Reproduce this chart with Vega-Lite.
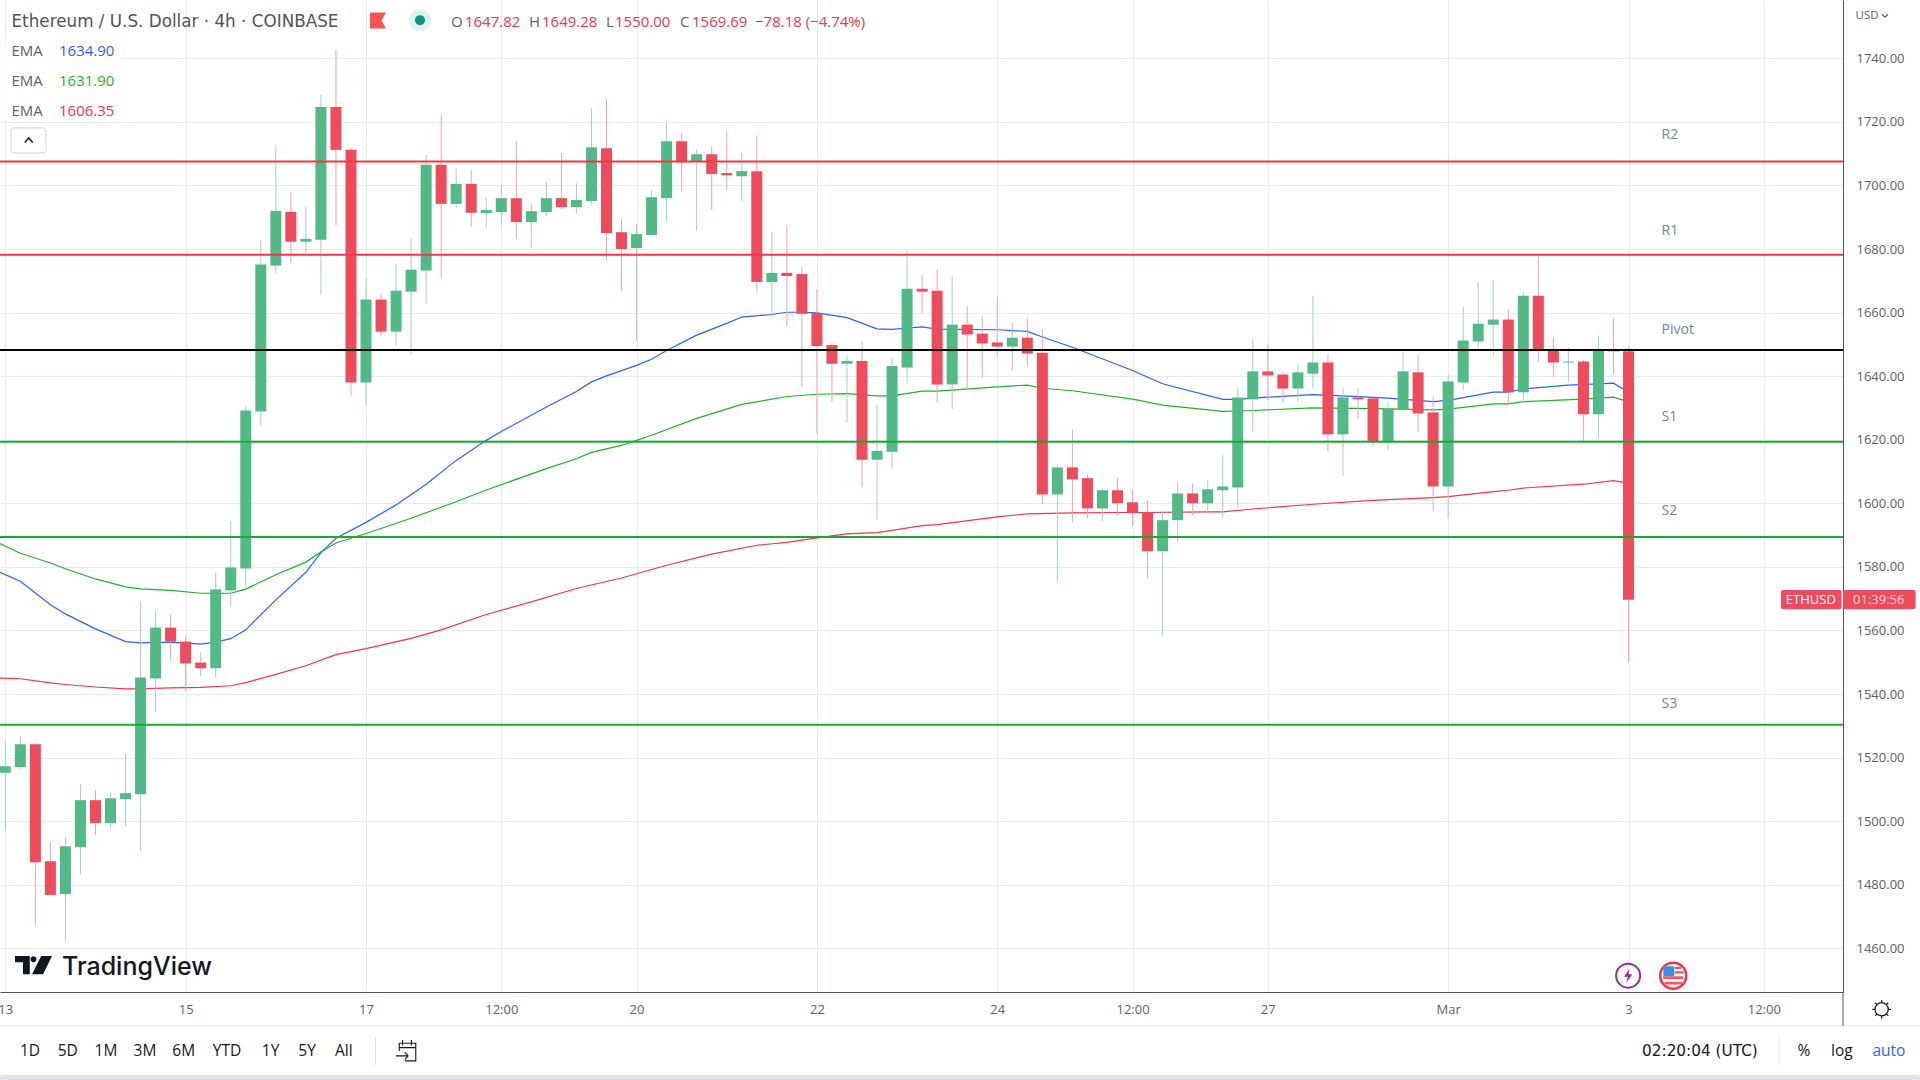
{
"$schema":"https://vega.github.io/schema/vega-lite/v6.json",
"width":1843,"height":992,"autosize":{"type":"none"},
"padding":{"left":0,"top":0,"right":77,"bottom":88},
"background":"#ffffff",
"config":{"view":{"stroke":null},"font":"Open Sans","text":{"font":"Open Sans"}},
"datasets":{
"candles":[
{"t":"2023-02-13T00:00Z","open":1515.2,"high":1525.1,"low":1497.3,"close":1517.3},
{"t":"2023-02-13T04:00Z","open":1517.0,"high":1526.7,"low":1516.3,"close":1524.2},
{"t":"2023-02-13T08:00Z","open":1524.2,"high":1524.5,"low":1467.3,"close":1487.1},
{"t":"2023-02-13T12:00Z","open":1487.4,"high":1493.4,"low":1476.8,"close":1476.8},
{"t":"2023-02-13T16:00Z","open":1477.1,"high":1495.0,"low":1462.3,"close":1492.1},
{"t":"2023-02-13T20:00Z","open":1491.8,"high":1511.6,"low":1483.4,"close":1506.6},
{"t":"2023-02-14T00:00Z","open":1506.6,"high":1509.7,"low":1495.6,"close":1499.4},
{"t":"2023-02-14T04:00Z","open":1499.4,"high":1509.1,"low":1498.1,"close":1507.2},
{"t":"2023-02-14T08:00Z","open":1506.9,"high":1521.0,"low":1498.4,"close":1508.8},
{"t":"2023-02-14T12:00Z","open":1508.5,"high":1569.1,"low":1490.6,"close":1545.2},
{"t":"2023-02-14T16:00Z","open":1544.9,"high":1566.0,"low":1534.2,"close":1560.9},
{"t":"2023-02-14T20:00Z","open":1560.9,"high":1565.0,"low":1550.3,"close":1556.5},
{"t":"2023-02-15T00:00Z","open":1556.5,"high":1558.1,"low":1540.8,"close":1549.6},
{"t":"2023-02-15T04:00Z","open":1549.9,"high":1553.1,"low":1545.6,"close":1548.1},
{"t":"2023-02-15T08:00Z","open":1548.1,"high":1578.2,"low":1545.2,"close":1572.9},
{"t":"2023-02-15T12:00Z","open":1572.6,"high":1594.5,"low":1567.5,"close":1579.8},
{"t":"2023-02-15T16:00Z","open":1579.5,"high":1630.5,"low":1573.8,"close":1629.2},
{"t":"2023-02-15T20:00Z","open":1628.9,"high":1682.9,"low":1624.5,"close":1675.1},
{"t":"2023-02-16T00:00Z","open":1674.8,"high":1712.8,"low":1672.3,"close":1692.0},
{"t":"2023-02-16T04:00Z","open":1691.7,"high":1697.7,"low":1675.7,"close":1682.3},
{"t":"2023-02-16T08:00Z","open":1682.3,"high":1693.3,"low":1678.8,"close":1683.2},
{"t":"2023-02-16T12:00Z","open":1682.9,"high":1728.5,"low":1665.7,"close":1724.7},
{"t":"2023-02-16T16:00Z","open":1724.7,"high":1742.6,"low":1687.3,"close":1711.2},
{"t":"2023-02-16T20:00Z","open":1711.2,"high":1711.8,"low":1633.9,"close":1638.0},
{"t":"2023-02-17T00:00Z","open":1638.0,"high":1670.7,"low":1630.5,"close":1664.1},
{"t":"2023-02-17T04:00Z","open":1664.1,"high":1665.7,"low":1652.5,"close":1654.0},
{"t":"2023-02-17T08:00Z","open":1654.0,"high":1675.4,"low":1649.6,"close":1666.9},
{"t":"2023-02-17T12:00Z","open":1666.6,"high":1683.2,"low":1646.8,"close":1673.5},
{"t":"2023-02-17T16:00Z","open":1673.2,"high":1709.6,"low":1662.8,"close":1706.5},
{"t":"2023-02-17T20:00Z","open":1706.5,"high":1722.2,"low":1670.7,"close":1694.2},
{"t":"2023-02-18T00:00Z","open":1694.2,"high":1705.2,"low":1693.0,"close":1700.5},
{"t":"2023-02-18T04:00Z","open":1700.5,"high":1704.9,"low":1687.0,"close":1691.4},
{"t":"2023-02-18T08:00Z","open":1691.3,"high":1696.3,"low":1686.6,"close":1692.3},
{"t":"2023-02-18T12:00Z","open":1691.6,"high":1700.1,"low":1687.5,"close":1696.0},
{"t":"2023-02-18T16:00Z","open":1696.0,"high":1713.9,"low":1683.1,"close":1688.5},
{"t":"2023-02-18T20:00Z","open":1688.5,"high":1694.1,"low":1680.3,"close":1691.9},
{"t":"2023-02-19T00:00Z","open":1691.6,"high":1701.0,"low":1690.4,"close":1696.0},
{"t":"2023-02-19T04:00Z","open":1696.0,"high":1710.2,"low":1692.6,"close":1693.2},
{"t":"2023-02-19T08:00Z","open":1693.2,"high":1700.7,"low":1691.0,"close":1695.4},
{"t":"2023-02-19T12:00Z","open":1695.1,"high":1724.3,"low":1693.8,"close":1712.0},
{"t":"2023-02-19T16:00Z","open":1711.7,"high":1727.1,"low":1676.5,"close":1685.0},
{"t":"2023-02-19T20:00Z","open":1685.3,"high":1689.4,"low":1666.8,"close":1680.0},
{"t":"2023-02-20T00:00Z","open":1680.3,"high":1687.9,"low":1651.1,"close":1684.7},
{"t":"2023-02-20T04:00Z","open":1684.4,"high":1698.5,"low":1684.1,"close":1696.3},
{"t":"2023-02-20T08:00Z","open":1696.0,"high":1720.2,"low":1688.8,"close":1713.9},
{"t":"2023-02-20T12:00Z","open":1713.9,"high":1716.4,"low":1697.9,"close":1707.3},
{"t":"2023-02-20T16:00Z","open":1707.6,"high":1711.4,"low":1685.7,"close":1709.8},
{"t":"2023-02-20T20:00Z","open":1709.8,"high":1712.4,"low":1692.3,"close":1703.6},
{"t":"2023-02-21T00:00Z","open":1703.9,"high":1717.1,"low":1698.5,"close":1703.2},
{"t":"2023-02-21T04:00Z","open":1702.9,"high":1710.2,"low":1695.1,"close":1704.5},
{"t":"2023-02-21T08:00Z","open":1704.5,"high":1715.8,"low":1666.5,"close":1669.6},
{"t":"2023-02-21T12:00Z","open":1669.6,"high":1685.3,"low":1659.0,"close":1672.5},
{"t":"2023-02-21T16:00Z","open":1672.5,"high":1687.2,"low":1655.8,"close":1671.5},
{"t":"2023-02-21T20:00Z","open":1672.1,"high":1674.3,"low":1636.7,"close":1659.6},
{"t":"2023-02-22T00:00Z","open":1659.9,"high":1667.4,"low":1621.9,"close":1649.5},
{"t":"2023-02-22T04:00Z","open":1649.8,"high":1650.5,"low":1631.9,"close":1643.9},
{"t":"2023-02-22T08:00Z","open":1643.9,"high":1646.4,"low":1625.3,"close":1644.8},
{"t":"2023-02-22T12:00Z","open":1644.8,"high":1650.8,"low":1605.2,"close":1613.7},
{"t":"2023-02-22T16:00Z","open":1613.7,"high":1631.0,"low":1595.0,"close":1616.5},
{"t":"2023-02-22T20:00Z","open":1616.2,"high":1645.8,"low":1610.9,"close":1643.2},
{"t":"2023-02-23T00:00Z","open":1642.7,"high":1679.2,"low":1637.4,"close":1667.5},
{"t":"2023-02-23T04:00Z","open":1667.5,"high":1671.9,"low":1659.7,"close":1666.6},
{"t":"2023-02-23T08:00Z","open":1666.9,"high":1673.5,"low":1631.7,"close":1637.4},
{"t":"2023-02-23T12:00Z","open":1637.4,"high":1671.3,"low":1629.5,"close":1656.2},
{"t":"2023-02-23T16:00Z","open":1656.2,"high":1661.9,"low":1635.8,"close":1653.1},
{"t":"2023-02-23T20:00Z","open":1653.4,"high":1658.7,"low":1639.3,"close":1650.3},
{"t":"2023-02-24T00:00Z","open":1650.6,"high":1664.7,"low":1646.2,"close":1649.3},
{"t":"2023-02-24T04:00Z","open":1649.3,"high":1656.9,"low":1641.8,"close":1652.1},
{"t":"2023-02-24T08:00Z","open":1652.1,"high":1658.1,"low":1643.0,"close":1647.1},
{"t":"2023-02-24T12:00Z","open":1647.4,"high":1654.7,"low":1599.7,"close":1602.8},
{"t":"2023-02-24T16:00Z","open":1602.8,"high":1612.3,"low":1575.5,"close":1611.3},
{"t":"2023-02-24T20:00Z","open":1611.3,"high":1623.2,"low":1594.0,"close":1607.5},
{"t":"2023-02-25T00:00Z","open":1607.9,"high":1609.1,"low":1595.3,"close":1598.4},
{"t":"2023-02-25T04:00Z","open":1598.4,"high":1604.4,"low":1594.3,"close":1604.1},
{"t":"2023-02-25T08:00Z","open":1604.1,"high":1607.9,"low":1596.5,"close":1600.0},
{"t":"2023-02-25T12:00Z","open":1600.3,"high":1604.1,"low":1592.8,"close":1596.9},
{"t":"2023-02-25T16:00Z","open":1597.2,"high":1600.9,"low":1576.4,"close":1584.9},
{"t":"2023-02-25T20:00Z","open":1584.9,"high":1597.5,"low":1558.4,"close":1594.7},
{"t":"2023-02-26T00:00Z","open":1594.7,"high":1606.6,"low":1587.8,"close":1603.1},
{"t":"2023-02-26T04:00Z","open":1603.1,"high":1606.3,"low":1596.2,"close":1600.0},
{"t":"2023-02-26T08:00Z","open":1600.0,"high":1607.2,"low":1597.2,"close":1604.4},
{"t":"2023-02-26T12:00Z","open":1604.1,"high":1615.1,"low":1595.6,"close":1605.3},
{"t":"2023-02-26T16:00Z","open":1605.0,"high":1636.1,"low":1598.7,"close":1633.3},
{"t":"2023-02-26T20:00Z","open":1632.7,"high":1651.5,"low":1622.6,"close":1641.5},
{"t":"2023-02-27T00:00Z","open":1641.5,"high":1649.9,"low":1632.4,"close":1640.2},
{"t":"2023-02-27T04:00Z","open":1640.5,"high":1641.5,"low":1631.7,"close":1636.1},
{"t":"2023-02-27T08:00Z","open":1636.1,"high":1643.7,"low":1632.0,"close":1641.2},
{"t":"2023-02-27T12:00Z","open":1640.8,"high":1665.3,"low":1636.1,"close":1644.3},
{"t":"2023-02-27T16:00Z","open":1644.3,"high":1646.8,"low":1616.3,"close":1621.7},
{"t":"2023-02-27T20:00Z","open":1621.7,"high":1636.4,"low":1608.5,"close":1633.3},
{"t":"2023-02-28T00:00Z","open":1633.3,"high":1636.1,"low":1626.7,"close":1632.7},
{"t":"2023-02-28T04:00Z","open":1633.0,"high":1633.2,"low":1617.9,"close":1619.5},
{"t":"2023-02-28T08:00Z","open":1619.5,"high":1632.0,"low":1616.7,"close":1629.8},
{"t":"2023-02-28T12:00Z","open":1629.5,"high":1647.7,"low":1629.2,"close":1641.5},
{"t":"2023-02-28T16:00Z","open":1641.2,"high":1646.8,"low":1622.6,"close":1628.3},
{"t":"2023-02-28T20:00Z","open":1628.6,"high":1633.6,"low":1597.5,"close":1605.3},
{"t":"2023-03-01T00:00Z","open":1605.3,"high":1640.5,"low":1595.3,"close":1638.3},
{"t":"2023-03-01T04:00Z","open":1638.0,"high":1661.9,"low":1635.5,"close":1651.2},
{"t":"2023-03-01T08:00Z","open":1650.9,"high":1669.7,"low":1649.0,"close":1656.5},
{"t":"2023-03-01T12:00Z","open":1656.2,"high":1670.1,"low":1646.2,"close":1657.8},
{"t":"2023-03-01T16:00Z","open":1657.8,"high":1660.9,"low":1631.1,"close":1634.9},
{"t":"2023-03-01T20:00Z","open":1634.9,"high":1666.3,"low":1631.7,"close":1665.3},
{"t":"2023-03-02T00:00Z","open":1665.3,"high":1677.6,"low":1644.6,"close":1648.1},
{"t":"2023-03-02T04:00Z","open":1648.1,"high":1652.1,"low":1639.6,"close":1644.3},
{"t":"2023-03-02T08:00Z","open":1644.3,"high":1649.0,"low":1638.0,"close":1644.6},
{"t":"2023-03-02T12:00Z","open":1644.6,"high":1645.2,"low":1619.5,"close":1628.0},
{"t":"2023-03-02T16:00Z","open":1628.0,"high":1652.8,"low":1620.7,"close":1648.1},
{"t":"2023-03-02T20:00Z","open":1648.0,"high":1658.1,"low":1640.5,"close":1647.8},
{"t":"2023-03-03T00:00Z","open":1647.82,"high":1649.28,"low":1550.0,"close":1569.69}
],
"ema":[
{"t":"2023-02-12T22:34Z","s":"blue","v":1578.3},{"t":"2023-02-13T04:00Z","s":"blue","v":1575.5},{"t":"2023-02-13T12:00Z","s":"blue","v":1568.1},{"t":"2023-02-13T16:00Z","s":"blue","v":1565.2},{"t":"2023-02-14T00:00Z","s":"blue","v":1560.5},{"t":"2023-02-14T08:00Z","s":"blue","v":1556.5},{"t":"2023-02-14T12:00Z","s":"blue","v":1556.1},{"t":"2023-02-14T20:00Z","s":"blue","v":1556.3},{"t":"2023-02-15T04:00Z","s":"blue","v":1555.7},{"t":"2023-02-15T08:00Z","s":"blue","v":1556.3},{"t":"2023-02-15T12:00Z","s":"blue","v":1557.4},{"t":"2023-02-15T16:00Z","s":"blue","v":1560.2},{"t":"2023-02-16T00:00Z","s":"blue","v":1569.6},{"t":"2023-02-16T08:00Z","s":"blue","v":1578.3},{"t":"2023-02-16T12:00Z","s":"blue","v":1584.5},{"t":"2023-02-16T16:00Z","s":"blue","v":1589},{"t":"2023-02-17T00:00Z","s":"blue","v":1594},{"t":"2023-02-17T08:00Z","s":"blue","v":1599.5},{"t":"2023-02-17T16:00Z","s":"blue","v":1606},{"t":"2023-02-18T00:00Z","s":"blue","v":1613.5},{"t":"2023-02-18T08:00Z","s":"blue","v":1619.8},{"t":"2023-02-18T12:00Z","s":"blue","v":1622.6},{"t":"2023-02-19T00:00Z","s":"blue","v":1630.3},{"t":"2023-02-19T08:00Z","s":"blue","v":1635.2},{"t":"2023-02-19T12:00Z","s":"blue","v":1638.2},{"t":"2023-02-19T16:00Z","s":"blue","v":1640.1},{"t":"2023-02-20T00:00Z","s":"blue","v":1643.4},{"t":"2023-02-20T04:00Z","s":"blue","v":1645.3},{"t":"2023-02-20T08:00Z","s":"blue","v":1648.1},{"t":"2023-02-20T16:00Z","s":"blue","v":1652.9},{"t":"2023-02-21T00:00Z","s":"blue","v":1656.6},{"t":"2023-02-21T04:00Z","s":"blue","v":1658.6},{"t":"2023-02-21T12:00Z","s":"blue","v":1659.4},{"t":"2023-02-21T16:00Z","s":"blue","v":1660.1},{"t":"2023-02-21T20:00Z","s":"blue","v":1660.1},{"t":"2023-02-22T00:00Z","s":"blue","v":1659.9},{"t":"2023-02-22T08:00Z","s":"blue","v":1658.4},{"t":"2023-02-22T16:00Z","s":"blue","v":1654.9},{"t":"2023-02-22T20:00Z","s":"blue","v":1654.7},{"t":"2023-02-23T04:00Z","s":"blue","v":1655.5},{"t":"2023-02-23T08:00Z","s":"blue","v":1654.8},{"t":"2023-02-24T00:00Z","s":"blue","v":1654.6},{"t":"2023-02-24T08:00Z","s":"blue","v":1654.1},{"t":"2023-02-24T12:00Z","s":"blue","v":1652.3},{"t":"2023-02-24T20:00Z","s":"blue","v":1649.1},{"t":"2023-02-25T12:00Z","s":"blue","v":1641.8},{"t":"2023-02-25T20:00Z","s":"blue","v":1637.6},{"t":"2023-02-26T12:00Z","s":"blue","v":1632.7},{"t":"2023-02-26T16:00Z","s":"blue","v":1632.7},{"t":"2023-02-26T20:00Z","s":"blue","v":1633.1},{"t":"2023-02-27T12:00Z","s":"blue","v":1634.2},{"t":"2023-02-27T20:00Z","s":"blue","v":1633.8},{"t":"2023-02-28T08:00Z","s":"blue","v":1633.1},{"t":"2023-02-28T20:00Z","s":"blue","v":1632},{"t":"2023-03-01T00:00Z","s":"blue","v":1632.4},{"t":"2023-03-01T12:00Z","s":"blue","v":1635},{"t":"2023-03-01T16:00Z","s":"blue","v":1635},{"t":"2023-03-01T20:00Z","s":"blue","v":1636},{"t":"2023-03-02T08:00Z","s":"blue","v":1637.2},{"t":"2023-03-02T16:00Z","s":"blue","v":1637.6},{"t":"2023-03-02T20:00Z","s":"blue","v":1637.8},{"t":"2023-03-03T00:00Z","s":"blue","v":1634.9},
{"t":"2023-02-12T22:34Z","s":"green","v":1587.3},{"t":"2023-02-13T04:00Z","s":"green","v":1584.3},{"t":"2023-02-13T12:00Z","s":"green","v":1581.2},{"t":"2023-02-13T16:00Z","s":"green","v":1579.4},{"t":"2023-02-14T00:00Z","s":"green","v":1576.2},{"t":"2023-02-14T08:00Z","s":"green","v":1573.7},{"t":"2023-02-14T12:00Z","s":"green","v":1573.1},{"t":"2023-02-14T20:00Z","s":"green","v":1572.6},{"t":"2023-02-15T04:00Z","s":"green","v":1571.7},{"t":"2023-02-15T12:00Z","s":"green","v":1571.7},{"t":"2023-02-15T16:00Z","s":"green","v":1573},{"t":"2023-02-16T00:00Z","s":"green","v":1577.5},{"t":"2023-02-16T08:00Z","s":"green","v":1581.5},{"t":"2023-02-16T12:00Z","s":"green","v":1584.7},{"t":"2023-02-16T16:00Z","s":"green","v":1587.5},{"t":"2023-02-17T00:00Z","s":"green","v":1590.5},{"t":"2023-02-17T12:00Z","s":"green","v":1595.3},{"t":"2023-02-18T00:00Z","s":"green","v":1600.5},{"t":"2023-02-18T08:00Z","s":"green","v":1604.2},{"t":"2023-02-19T00:00Z","s":"green","v":1610.9},{"t":"2023-02-19T08:00Z","s":"green","v":1614},{"t":"2023-02-19T12:00Z","s":"green","v":1616},{"t":"2023-02-19T20:00Z","s":"green","v":1618.2},{"t":"2023-02-20T00:00Z","s":"green","v":1619.8},{"t":"2023-02-20T04:00Z","s":"green","v":1621.4},{"t":"2023-02-20T16:00Z","s":"green","v":1626.7},{"t":"2023-02-21T04:00Z","s":"green","v":1631.1},{"t":"2023-02-21T16:00Z","s":"green","v":1633.6},{"t":"2023-02-22T00:00Z","s":"green","v":1634.3},{"t":"2023-02-22T08:00Z","s":"green","v":1634.5},{"t":"2023-02-22T16:00Z","s":"green","v":1633.8},{"t":"2023-02-22T20:00Z","s":"green","v":1633.8},{"t":"2023-02-23T04:00Z","s":"green","v":1635.3},{"t":"2023-02-23T08:00Z","s":"green","v":1635.3},{"t":"2023-02-24T00:00Z","s":"green","v":1636.6},{"t":"2023-02-24T08:00Z","s":"green","v":1637.2},{"t":"2023-02-24T12:00Z","s":"green","v":1636.2},{"t":"2023-02-24T20:00Z","s":"green","v":1635.4},{"t":"2023-02-25T12:00Z","s":"green","v":1632.8},{"t":"2023-02-25T20:00Z","s":"green","v":1630.9},{"t":"2023-02-26T12:00Z","s":"green","v":1628.9},{"t":"2023-02-26T20:00Z","s":"green","v":1629.2},{"t":"2023-02-27T12:00Z","s":"green","v":1630},{"t":"2023-02-28T04:00Z","s":"green","v":1629.8},{"t":"2023-02-28T20:00Z","s":"green","v":1629.4},{"t":"2023-03-01T00:00Z","s":"green","v":1629.6},{"t":"2023-03-01T12:00Z","s":"green","v":1631.3},{"t":"2023-03-01T16:00Z","s":"green","v":1631.3},{"t":"2023-03-01T20:00Z","s":"green","v":1632},{"t":"2023-03-02T12:00Z","s":"green","v":1632.8},{"t":"2023-03-02T20:00Z","s":"green","v":1633.4},{"t":"2023-03-03T00:00Z","s":"green","v":1631.9},
{"t":"2023-02-12T22:34Z","s":"red","v":1545},{"t":"2023-02-13T04:00Z","s":"red","v":1544.8},{"t":"2023-02-13T12:00Z","s":"red","v":1543.5},{"t":"2023-02-13T16:00Z","s":"red","v":1543},{"t":"2023-02-14T00:00Z","s":"red","v":1542.2},{"t":"2023-02-14T08:00Z","s":"red","v":1541.6},{"t":"2023-02-14T12:00Z","s":"red","v":1541.6},{"t":"2023-02-14T20:00Z","s":"red","v":1541.9},{"t":"2023-02-15T04:00Z","s":"red","v":1542.1},{"t":"2023-02-15T12:00Z","s":"red","v":1542.6},{"t":"2023-02-15T16:00Z","s":"red","v":1543.6},{"t":"2023-02-16T00:00Z","s":"red","v":1546.2},{"t":"2023-02-16T08:00Z","s":"red","v":1548.9},{"t":"2023-02-16T16:00Z","s":"red","v":1552.4},{"t":"2023-02-17T00:00Z","s":"red","v":1554.3},{"t":"2023-02-17T12:00Z","s":"red","v":1557.5},{"t":"2023-02-17T20:00Z","s":"red","v":1560.2},{"t":"2023-02-18T08:00Z","s":"red","v":1565},{"t":"2023-02-18T20:00Z","s":"red","v":1569},{"t":"2023-02-19T08:00Z","s":"red","v":1573.2},{"t":"2023-02-19T20:00Z","s":"red","v":1576.5},{"t":"2023-02-20T08:00Z","s":"red","v":1580.5},{"t":"2023-02-20T20:00Z","s":"red","v":1584},{"t":"2023-02-21T08:00Z","s":"red","v":1586.8},{"t":"2023-02-21T16:00Z","s":"red","v":1587.7},{"t":"2023-02-22T00:00Z","s":"red","v":1589.1},{"t":"2023-02-22T08:00Z","s":"red","v":1590.4},{"t":"2023-02-22T16:00Z","s":"red","v":1590.8},{"t":"2023-02-22T20:00Z","s":"red","v":1591.5},{"t":"2023-02-23T04:00Z","s":"red","v":1593},{"t":"2023-02-23T08:00Z","s":"red","v":1593.3},{"t":"2023-02-24T00:00Z","s":"red","v":1595.7},{"t":"2023-02-24T08:00Z","s":"red","v":1596.7},{"t":"2023-02-24T20:00Z","s":"red","v":1597},{"t":"2023-02-25T08:00Z","s":"red","v":1597.1},{"t":"2023-02-25T16:00Z","s":"red","v":1597.1},{"t":"2023-02-26T08:00Z","s":"red","v":1597.3},{"t":"2023-02-26T12:00Z","s":"red","v":1597.3},{"t":"2023-02-26T20:00Z","s":"red","v":1598.2},{"t":"2023-02-27T12:00Z","s":"red","v":1599.7},{"t":"2023-02-28T04:00Z","s":"red","v":1600.9},{"t":"2023-02-28T20:00Z","s":"red","v":1601.8},{"t":"2023-03-01T00:00Z","s":"red","v":1602.1},{"t":"2023-03-01T12:00Z","s":"red","v":1603.7},{"t":"2023-03-01T16:00Z","s":"red","v":1604.1},{"t":"2023-03-01T20:00Z","s":"red","v":1604.8},{"t":"2023-03-02T12:00Z","s":"red","v":1606},{"t":"2023-03-02T20:00Z","s":"red","v":1607.1},{"t":"2023-03-03T00:00Z","s":"red","v":1606.35}
],
"levels":[
{"name":"R2","price":1707.5,"labelPrice":1716.0,"at":"2023-03-03T08:48Z"},
{"name":"R1","price":1678.2,"labelPrice":1685.8,"at":"2023-03-03T08:48Z"},
{"name":"Pivot","price":1648.2,"labelPrice":1654.5,"at":"2023-03-03T08:48Z"},
{"name":"S1","price":1619.4,"labelPrice":1627.0,"at":"2023-03-03T08:48Z"},
{"name":"S2","price":1589.4,"labelPrice":1597.7,"at":"2023-03-03T08:48Z"},
{"name":"S3","price":1530.3,"labelPrice":1537.0,"at":"2023-03-03T08:48Z"}
],
"panels":[
{"t":"2023-02-12T22:35Z","t2":"2023-02-14T07:07Z","p":1745.1,"p2":1720,"role":"veil"},
{"t":"2023-02-12T22:35Z","t2":"2023-03-06T05:34Z","p":1420.1,"p2":1418.0,"role":"band"},
{"t":"2023-03-04T16:34Z","t2":"2023-03-05T08:43Z","p":1572.7,"p2":1566.7,"role":"tag"},
{"t":"2023-03-05T09:05Z","t2":"2023-03-06T04:24Z","p":1572.7,"p2":1566.7,"role":"tag"}
],
"dividers":[
{"t":"2023-02-12T22:35Z","t2":"2023-03-06T05:34Z","p":1435.6,"p2":1435.6,"role":"light"},
{"t":"2023-03-05T09:05Z","t2":"2023-03-05T09:05Z","p":1446.25,"p2":1435.6,"role":"dark"},
{"t":"2023-02-17T02:31Z","t2":"2023-02-17T02:31Z","p":1432.1,"p2":1423.3,"role":"light"},
{"t":"2023-03-04T16:04Z","t2":"2023-03-04T16:04Z","p":1432.1,"p2":1423.3,"role":"light"}
],
"texts":[
{"t":"2023-02-13T01:39Z","p":1751.5,"text":"Ethereum / U.S. Dollar · 4h · COINBASE","tone":"muted","group":"title"},
{"t":"2023-02-17T22:37Z","p":1751.5,"text":"O","tone":"muted","group":"head"},
{"t":"2023-02-18T02:20Z","p":1751.5,"text":"1647.82","tone":"down","group":"head"},
{"t":"2023-02-18T19:22Z","p":1751.5,"text":"H","tone":"muted","group":"head"},
{"t":"2023-02-18T22:50Z","p":1751.5,"text":"1649.28","tone":"down","group":"head"},
{"t":"2023-02-19T15:52Z","p":1751.5,"text":"L","tone":"muted","group":"head"},
{"t":"2023-02-19T18:16Z","p":1751.5,"text":"1550.00","tone":"down","group":"head"},
{"t":"2023-02-20T11:33Z","p":1751.5,"text":"C","tone":"muted","group":"head"},
{"t":"2023-02-20T14:46Z","p":1751.5,"text":"1569.69","tone":"down","group":"head"},
{"t":"2023-02-21T07:31Z","p":1751.5,"text":"−78.18 (−4.74%)","tone":"down","group":"head"},
{"t":"2023-02-13T01:39Z","p":1742.3,"text":"EMA","tone":"muted","group":"head"},
{"t":"2023-02-13T14:17Z","p":1742.3,"text":"1634.90","tone":"blue","group":"head"},
{"t":"2023-02-13T01:39Z","p":1732.9,"text":"EMA","tone":"muted","group":"head"},
{"t":"2023-02-13T14:17Z","p":1732.9,"text":"1631.90","tone":"green","group":"head"},
{"t":"2023-02-13T01:39Z","p":1723.5,"text":"EMA","tone":"muted","group":"head"},
{"t":"2023-02-13T14:17Z","p":1723.5,"text":"1606.35","tone":"down","group":"head"},
{"t":"2023-03-05T12:26Z","p":1753.4,"text":"USD","tone":"muted","group":"small"},
{"t":"2023-02-13T06:34Z","p":1427.7,"text":"1D","tone":"ink","group":"bar"},
{"t":"2023-02-13T16:38Z","p":1427.7,"text":"5D","tone":"ink","group":"bar"},
{"t":"2023-02-14T02:48Z","p":1427.7,"text":"1M","tone":"ink","group":"bar"},
{"t":"2023-02-14T13:11Z","p":1427.7,"text":"3M","tone":"ink","group":"bar"},
{"t":"2023-02-14T23:29Z","p":1427.7,"text":"6M","tone":"ink","group":"bar"},
{"t":"2023-02-15T11:00Z","p":1427.7,"text":"YTD","tone":"ink","group":"bar"},
{"t":"2023-02-15T22:36Z","p":1427.7,"text":"1Y","tone":"ink","group":"bar"},
{"t":"2023-02-16T08:18Z","p":1427.7,"text":"5Y","tone":"ink","group":"bar"},
{"t":"2023-02-16T18:04Z","p":1427.7,"text":"All","tone":"ink","group":"bar"},
{"t":"2023-03-03T19:00Z","p":1427.7,"text":"02:20:04 (UTC)","tone":"ink","group":"clock"},
{"t":"2023-03-04T22:41Z","p":1427.7,"text":"%","tone":"ink","group":"bar"},
{"t":"2023-03-05T08:48Z","p":1427.7,"text":"log","tone":"ink","group":"bar"},
{"t":"2023-03-05T21:18Z","p":1427.7,"text":"auto","tone":"blue","group":"bar"},
{"t":"2023-03-05T00:31Z","p":1569.7,"text":"ETHUSD","tone":"white","group":"tag"},
{"t":"2023-03-05T18:36Z","p":1569.7,"text":"01:39:56","tone":"pink","group":"tag"}
],
"button":[{"t":"2023-02-13T01:31Z","t2":"2023-02-13T10:50Z","p":1718.1,"p2":1710.2}],
"anchors":[
{"t":"2023-02-17T03:11Z","p":1751.9,"icon":"pennant"},
{"t":"2023-02-17T14:22Z","p":1752,"icon":"status"},
{"t":"2023-02-13T06:14Z","p":1714.3,"icon":"caret"},
{"t":"2023-03-05T20:14Z","p":1753.4,"icon":"usdcaret"},
{"t":"2023-02-13T07:30Z","p":1454.7,"icon":"logo"},
{"t":"2023-03-02T23:54Z","p":1451.4,"icon":"flash"},
{"t":"2023-03-03T11:54Z","p":1451.4,"icon":"flag"},
{"t":"2023-03-05T19:22Z","p":1440.8,"icon":"gear"},
{"t":"2023-02-17T10:54Z","p":1427.7,"icon":"calendar"}
],
"brand":[{"t":"2023-02-13T15:05Z","p":1454.0,"text":"TradingView"}]
},
"resolve":{"scale":{"color":"independent"}},
"layer":[
{"data":{"name":"ema"},"mark":{"type":"line","strokeWidth":1.2,"clip":true},
 "encoding":{
  "x":{"field":"t","type":"temporal","title":null,
   "scale":{"type":"utc","domain":[1676241316800,1678007088000],"nice":false,"padding":0},
   "axis":{"values":[1676246400000,1676419200000,1676592000000,1676721600000,1676851200000,1677024000000,1677196800000,1677326400000,1677456000000,1677628800000,1677801600000,1677931200000],
    "labelExpr":"utcFormat(datum.value,'%H')=='12' ? '12:00' : (utcFormat(datum.value,'%d')=='01' ? 'Mar' : utcFormat(datum.value,'%-d'))",
    "grid":true,"gridColor":"#e3ecf2","gridWidth":1,"domain":true,"domainColor":"#50535e","domainWidth":1,"ticks":false,"tickSize":0,
    "labelPadding":11,"labelColor":"#5d606b","labelFontSize":13,"labelFont":"Open Sans","labelOverlap":false,"labelBound":false,"labelFlush":false}},
  "y":{"field":"v","type":"quantitative","title":null,
   "scale":{"domain":[1446.25,1758.34],"nice":false,"zero":false},
   "axis":{"orient":"right","values":[1460,1480,1500,1520,1540,1560,1580,1600,1620,1640,1660,1680,1700,1720,1740],"format":".2f",
    "grid":true,"gridColor":"#e6ecf2","gridWidth":1,"domain":true,"domainColor":"#50535e","domainWidth":1,"ticks":false,"tickSize":0,
    "labelPadding":13,"labelColor":"#5d606b","labelFontSize":13,"labelFont":"Open Sans","labelOverlap":false,"labelBound":false}},
  "color":{"field":"s","type":"nominal","legend":null,"scale":{"domain":["blue","green","red"],"range":["#2962ff","#1fb12c","#f23645"]}},
  "detail":{"field":"s"}}},
{"data":{"name":"candles"},"mark":{"type":"rule","strokeWidth":1},
 "encoding":{"x":{"field":"t","type":"temporal"},"y":{"field":"low","type":"quantitative"},"y2":{"field":"high"},
  "color":{"condition":{"test":"datum.close>=datum.open","value":"#a5cdcb"},"value":"#f7a1ad"}}},
{"data":{"name":"candles"},"mark":{"type":"bar","size":11},
 "encoding":{"x":{"field":"t","type":"temporal"},"y":{"field":"open","type":"quantitative"},"y2":{"field":"close"},
  "color":{"condition":{"test":"datum.close>=datum.open","value":"#53b987"},"value":"#ed4c5c"}}},
{"data":{"name":"levels"},"mark":{"type":"rule","strokeWidth":2},
 "encoding":{"y":{"field":"price","type":"quantitative"},
  "color":{"field":"name","type":"nominal","legend":null,"scale":{"domain":["R2","R1","Pivot","S1","S2","S3"],"range":["#f23645","#f23645","#000000","#1aab28","#1aab28","#1aab28"]}}}},
{"data":{"name":"levels"},"mark":{"type":"text","align":"left","baseline":"middle","fontSize":14,"color":"#70849a"},
 "encoding":{"x":{"field":"at","type":"temporal"},"y":{"field":"labelPrice","type":"quantitative"},"text":{"field":"name"}}},
{"data":{"name":"panels"},"mark":{"type":"rect","cornerRadius":2},
 "encoding":{"x":{"field":"t","type":"temporal"},"x2":{"field":"t2"},"y":{"field":"p","type":"quantitative"},"y2":{"field":"p2"},
  "color":{"field":"role","type":"nominal","legend":null,"scale":{"domain":["veil","band","tag"],"range":["#ffffffcc","#e0e3eb","#ed4c5c"]}}}},
{"data":{"name":"dividers"},"mark":{"type":"rule","strokeWidth":1},
 "encoding":{"x":{"field":"t","type":"temporal"},"x2":{"field":"t2"},"y":{"field":"p","type":"quantitative"},"y2":{"field":"p2"},
  "color":{"field":"role","type":"nominal","legend":null,"scale":{"domain":["light","dark"],"range":["#e0e3eb","#50535e"]}}}},
{"data":{"name":"button"},"mark":{"type":"rect","cornerRadius":3,"fill":"#ffffff","stroke":"#d1d4dc","strokeWidth":1},
 "encoding":{"x":{"field":"t","type":"temporal"},"x2":{"field":"t2"},"y":{"field":"p","type":"quantitative"},"y2":{"field":"p2"}}},
{"data":{"name":"texts"},"transform":[{"filter":"datum.group=='title'"}],"mark":{"type":"text","align":"left","baseline":"middle","fontSize":16.8,"font":"DejaVu Sans"},
 "encoding":{"x":{"field":"t","type":"temporal"},"y":{"field":"p","type":"quantitative"},"text":{"field":"text"},
  "color":{"field":"tone","type":"nominal","legend":null,"scale":{"domain":["muted"],"range":["#50535e"]}}}},
{"data":{"name":"texts"},"transform":[{"filter":"datum.group=='head'"}],"mark":{"type":"text","align":"left","baseline":"middle","fontSize":15},
 "encoding":{"x":{"field":"t","type":"temporal"},"y":{"field":"p","type":"quantitative"},"text":{"field":"text"},
  "color":{"field":"tone","type":"nominal","legend":null,"scale":{"domain":["muted","down","blue","green"],"range":["#5d606b","#f23645","#2962ff","#1fb12c"]}}}},
{"data":{"name":"texts"},"transform":[{"filter":"datum.group=='small'"}],"mark":{"type":"text","align":"left","baseline":"middle","fontSize":11.5,"color":"#5d606b"},
 "encoding":{"x":{"field":"t","type":"temporal"},"y":{"field":"p","type":"quantitative"},"text":{"field":"text"}}},
{"data":{"name":"texts"},"transform":[{"filter":"datum.group=='clock'"}],"mark":{"type":"text","align":"center","baseline":"middle","fontSize":15.3,"font":"DejaVu Sans","color":"#131722"},
 "encoding":{"x":{"field":"t","type":"temporal"},"y":{"field":"p","type":"quantitative"},"text":{"field":"text"}}},
{"data":{"name":"texts"},"transform":[{"filter":"datum.group=='bar'"}],"mark":{"type":"text","align":"center","baseline":"middle","fontSize":15.5},
 "encoding":{"x":{"field":"t","type":"temporal"},"y":{"field":"p","type":"quantitative"},"text":{"field":"text"},
  "color":{"field":"tone","type":"nominal","legend":null,"scale":{"domain":["ink","blue"],"range":["#131722","#2962ff"]}}}},
{"data":{"name":"texts"},"transform":[{"filter":"datum.group=='tag'"}],"mark":{"type":"text","align":"center","baseline":"middle","fontSize":13},
 "encoding":{"x":{"field":"t","type":"temporal"},"y":{"field":"p","type":"quantitative"},"text":{"field":"text"},
  "color":{"field":"tone","type":"nominal","legend":null,"scale":{"domain":["white","pink"],"range":["#ffffff","#fbd3d9"]}}}},
{"data":{"name":"brand"},"mark":{"type":"text","align":"left","baseline":"middle","fontSize":25,"fontWeight":500,"font":"Inter","color":"#131722"},
 "encoding":{"x":{"field":"t","type":"temporal"},"y":{"field":"p","type":"quantitative"},"text":{"field":"text"}}},
{"data":{"name":"anchors"},"transform":[{"filter":"datum.icon=='pennant'"}],"mark":{"type":"point","shape":"M-1,-1L1,-1L.45,0L1,1L-1,1Z","size":256,"filled":true,"opacity":1,"color":"#ff5252"},
 "encoding":{"x":{"field":"t","type":"temporal"},"y":{"field":"p","type":"quantitative"}}},
{"data":{"name":"anchors"},"transform":[{"filter":"datum.icon=='status'"}],"mark":{"type":"point","shape":"circle","size":484,"filled":true,"opacity":1,"color":"#dff2ef"},
 "encoding":{"x":{"field":"t","type":"temporal"},"y":{"field":"p","type":"quantitative"}}},
{"data":{"name":"anchors"},"transform":[{"filter":"datum.icon=='status'"}],"mark":{"type":"point","shape":"circle","size":100,"filled":true,"opacity":1,"color":"#089981"},
 "encoding":{"x":{"field":"t","type":"temporal"},"y":{"field":"p","type":"quantitative"}}},
{"data":{"name":"anchors"},"transform":[{"filter":"datum.icon=='caret'"}],"mark":{"type":"point","shape":"M-1,.6L0,-.5L1,.6","size":64,"filled":false,"opacity":1,"color":"#131722","strokeWidth":1.5},
 "encoding":{"x":{"field":"t","type":"temporal"},"y":{"field":"p","type":"quantitative"}}},
{"data":{"name":"anchors"},"transform":[{"filter":"datum.icon=='usdcaret'"}],"mark":{"type":"point","shape":"M-1,-.5L0,.5L1,-.5","size":36,"filled":false,"opacity":1,"color":"#5d606b","strokeWidth":1.2},
 "encoding":{"x":{"field":"t","type":"temporal"},"y":{"field":"p","type":"quantitative"}}},
{"data":{"name":"anchors"},"transform":[{"filter":"datum.icon=='logo'"}],"mark":{"type":"point","shape":"M-1,-.49L-.2,-.49L-.2,.49L-.57,.49L-.57,-.16L-1,-.16Z M-.16,-.32a.16,.16 0 1,0 .32,0a.16,.16 0 1,0 -.32,0Z M.42,-.49L1,-.49L.52,.49L-.08,.49Z","size":1369,"filled":true,"opacity":1,"color":"#131722"},
 "encoding":{"x":{"field":"t","type":"temporal"},"y":{"field":"p","type":"quantitative"}}},
{"data":{"name":"anchors"},"transform":[{"filter":"datum.icon=='flash'"}],"mark":{"type":"point","shape":"circle","size":576,"filled":false,"opacity":1,"fill":"#ffffff","stroke":"#9c27b0","strokeWidth":2},
 "encoding":{"x":{"field":"t","type":"temporal"},"y":{"field":"p","type":"quantitative"}}},
{"data":{"name":"anchors"},"transform":[{"filter":"datum.icon=='flash'"}],"mark":{"type":"point","shape":"M.2,-1L-.6,.15L-.05,.15L-.25,1L.6,-.2L.05,-.2Z","size":196,"filled":true,"opacity":1,"color":"#9c27b0"},
 "encoding":{"x":{"field":"t","type":"temporal"},"y":{"field":"p","type":"quantitative"}}},
{"data":{"name":"anchors"},"transform":[{"filter":"datum.icon=='flag'"}],"mark":{"type":"point","shape":"circle","size":676,"filled":false,"opacity":1,"fill":"#ffffff","stroke":"#f23645","strokeWidth":2.5},
 "encoding":{"x":{"field":"t","type":"temporal"},"y":{"field":"p","type":"quantitative"}}},
{"data":{"name":"anchors"},"transform":[{"filter":"datum.icon=='flag'"}],"mark":{"type":"point","shape":"M-.9,.05L.9,.05L.9,.3L-.9,.3Z M-.8,.55L.8,.55L.8,.8L-.8,.8Z M.15,-.4L.95,-.4L.95,-.2L.15,-.2Z M.15,-.8L.7,-.8L.7,-.6L.15,-.6Z","size":484,"filled":true,"opacity":1,"color":"#f7525f"},
 "encoding":{"x":{"field":"t","type":"temporal"},"y":{"field":"p","type":"quantitative"}}},
{"data":{"name":"anchors"},"transform":[{"filter":"datum.icon=='flag'"}],"mark":{"type":"point","shape":"M-.9,-.85L.1,-.85L.1,.05L-.9,.05Z","size":484,"filled":true,"opacity":1,"color":"#3d8fe8"},
 "encoding":{"x":{"field":"t","type":"temporal"},"y":{"field":"p","type":"quantitative"}}},
{"data":{"name":"anchors"},"transform":[{"filter":"datum.icon=='gear'"}],"mark":{"type":"point","shape":"M-.6,0a.6,.6 0 1,0 1.2,0a.6,.6 0 1,0 -1.2,0Z M0,-.6L0,-.85 M0,.6L0,.85 M-.6,0L-.85,0 M.6,0L.85,0 M.42,.42L.6,.6 M-.42,.42L-.6,.6 M.42,-.42L.6,-.6 M-.42,-.42L-.6,-.6","size":484,"filled":false,"opacity":1,"color":"#131722","strokeWidth":1.2},
 "encoding":{"x":{"field":"t","type":"temporal"},"y":{"field":"p","type":"quantitative"}}},
{"data":{"name":"anchors"},"transform":[{"filter":"datum.icon=='calendar'"}],"mark":{"type":"point","shape":"M-.7,-.3L.8,-.3 M-.7,.0L-.7,-.7L.8,-.7L.8,.9L-.2,.9 M-.4,-1L-.4,-.5 M.4,-1L.4,-.5 M-1,.45L.1,.45 M-.2,.1L.1,.45L-.2,.8","size":484,"filled":false,"opacity":1,"color":"#131722","strokeWidth":1.1},
 "encoding":{"x":{"field":"t","type":"temporal"},"y":{"field":"p","type":"quantitative"}}}
]
}
